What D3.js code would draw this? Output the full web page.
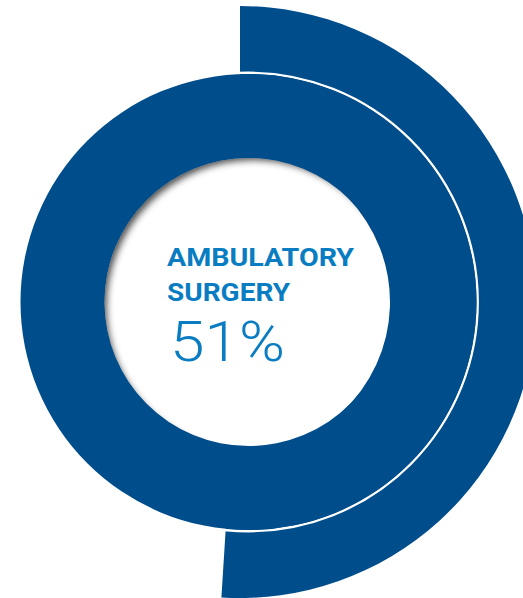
<!DOCTYPE html>
<html>
<head>
<meta charset="utf-8">
<script src="https://cdn.jsdelivr.net/npm/d3@7"></script>
<style>
  html, body { margin: 0; padding: 0; background: #fff; }
  svg { display: block; }
</style>
</head>
<body>
<div id="chart"></div>
<script>
// ---- data ----
const categories = ["AMBULATORY", "SURGERY"];
const values = [51];          // percent share
const totals = [100];         // full scale
const valueLabels = ["51%"];

// ---- setup ----
const W = 523, H = 598;
const darkBlue = "#004d8c";
const textBlue = "#0a7dc2";

const svg = d3.select("#chart").append("svg")
  .attr("width", W).attr("height", H);

const defs = svg.append("defs");
const blur = defs.append("filter").attr("id", "blur")
  .attr("x", "-20%").attr("y", "-20%").attr("width", "140%").attr("height", "140%");
blur.append("feGaussianBlur").attr("stdDeviation", 3.6);

// outer share arc (slightly offset centre as in the reference)
const outerC = { x: 240, y: 302 };
const ringC = { x: 248.5, y: 302 };

const angle = d3.scaleLinear().domain([0, totals[0]]).range([0, 2 * Math.PI]);

const outerArc = d3.arc()
  .innerRadius(150)
  .outerRadius(296)
  .startAngle(angle(0))
  .endAngle(d => angle(d));

svg.append("g")
  .attr("transform", `translate(${outerC.x},${outerC.y})`)
  .selectAll("path")
  .data(values)
  .join("path")
  .attr("d", outerArc)
  .attr("fill", darkBlue);

// inner full ring (100%) with white separation line
const ringArc = d3.arc()
  .innerRadius(144)
  .outerRadius(228)
  .startAngle(0)
  .endAngle(d => angle(d));

const ringG = svg.append("g")
  .attr("transform", `translate(${ringC.x},${ringC.y})`);

ringG.append("circle")
  .attr("r", 229.2)
  .attr("fill", "none")
  .attr("stroke", "#fff")
  .attr("stroke-width", 2.4);

ringG.selectAll("path.ring")
  .data(totals)
  .join("path")
  .attr("class", "ring")
  .attr("d", ringArc)
  .attr("fill", darkBlue);

// inner shadow inside the hole
defs.append("clipPath").attr("id", "hole")
  .append("circle").attr("cx", ringC.x).attr("cy", ringC.y).attr("r", 144);

svg.append("g")
  .attr("clip-path", "url(#hole)")
  .append("circle")
  .attr("cx", ringC.x + 5)
  .attr("cy", ringC.y + 5)
  .attr("r", 170)
  .attr("fill", "none")
  .attr("stroke", "#000")
  .attr("stroke-opacity", 0.7)
  .attr("stroke-width", 46)
  .attr("filter", "url(#blur)");

// ---- labels ----
const tx = 167;
const labelG = svg.append("g");
labelG.selectAll("text.cat")
  .data(categories)
  .join("text")
  .attr("class", "cat")
  .attr("x", tx)
  .attr("y", (d, i) => 266 + i * 35)
  .attr("fill", textBlue)
  .attr("font-family", "Roboto, 'DejaVu Sans', sans-serif")
  .attr("font-weight", 700)
  .attr("font-size", 26.5)
  .attr("textLength", (d, i) => i === 0 ? 187 : 123)
  .attr("lengthAdjust", "spacingAndGlyphs")
  .text(d => d);

labelG.selectAll("text.val")
  .data(valueLabels)
  .join("text")
  .attr("class", "val")
  .attr("x", 170)
  .attr("y", 361)
  .attr("fill", textBlue)
  .attr("font-family", "Roboto, 'DejaVu Sans', sans-serif")
  .attr("font-weight", 300)
  .attr("font-size", 56)
  .attr("textLength", 115)
  .attr("lengthAdjust", "spacingAndGlyphs")
  .text(d => d);
</script>
</body>
</html>
